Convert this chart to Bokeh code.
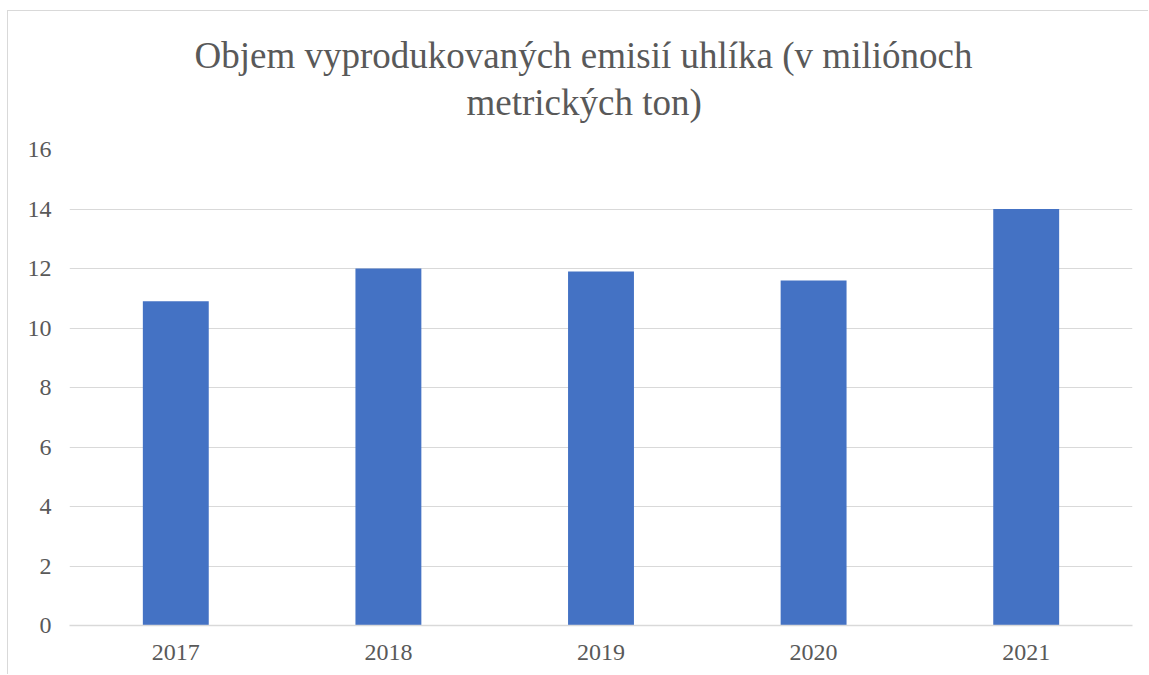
from bokeh.plotting import figure
from bokeh.models import Title, FixedTicker, Range1d
from bokeh.embed import file_html
from bokeh.resources import INLINE

years = ["2017", "2018", "2019", "2020", "2021"]
values = [10.9, 12.0, 11.9, 11.6, 14.0]
y_ticks = [0, 2, 4, 6, 8, 10, 12, 14, 16]
title_line1 = "Objem vyprodukovaných emisií uhlíka (v miliónoch"
title_line2 = "metrických ton)"

FONT = "Liberation Serif, Times New Roman, serif"
TXT = "#595959"
GRID = "#D9D9D9"

p = figure(x_range=years, y_range=Range1d(0, 16), width=1141, height=664,
           output_backend="svg", toolbar_location=None, title=None,
           min_border_left=61, min_border_right=17, min_border_top=138,
           min_border_bottom=50)

p.vbar(x=years, top=values, width=0.31, color="#4472C4", line_color=None)

p.add_layout(Title(text=title_line2, align="left", offset=397, text_font=FONT,
                   text_font_size="37px", text_color=TXT,
                   text_font_style="normal", standoff=53), "above")
p.add_layout(Title(text=title_line1, align="left", offset=125, text_font=FONT,
                   text_font_size="37px", text_color=TXT,
                   text_font_style="normal", standoff=-44), "above")

p.outline_line_color = None
p.xgrid.grid_line_color = None
p.ygrid.grid_line_color = GRID
p.ygrid.grid_line_width = 1
p.yaxis.ticker = FixedTicker(ticks=y_ticks)
p.yaxis.axis_line_color = None
p.yaxis.major_tick_line_color = None
p.yaxis.minor_tick_line_color = None
p.yaxis.major_label_standoff = 12
p.xaxis.axis_line_color = GRID
p.xaxis.axis_line_width = 1.5
p.xaxis.major_tick_line_color = None
p.xaxis.major_label_standoff = 13
for ax in (p.xaxis, p.yaxis):
    ax.major_label_text_font = FONT
    ax.major_label_text_font_size = "24px"
    ax.major_label_text_color = TXT
p.x_range.range_padding = 0
p.styles = {"margin-left": "7px", "margin-top": "10px",
            "border-top": "1px solid #D9D9D9",
            "border-left": "1px solid #D9D9D9",
            "box-sizing": "border-box"}

open("out.html", "w").write(file_html(p, INLINE))
